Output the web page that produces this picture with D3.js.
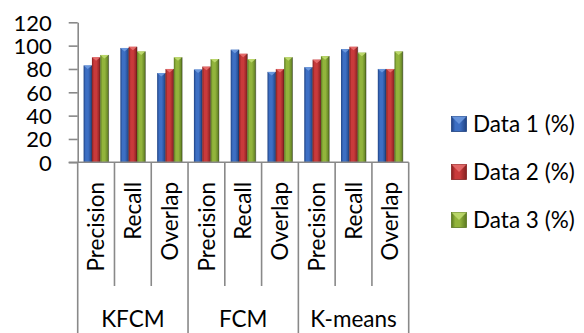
<!DOCTYPE html>
<html>
<head>
<meta charset="utf-8">
<script src="https://cdn.jsdelivr.net/npm/d3@7"></script>
<style>
  html, body { margin: 0; padding: 0; background: #fff; }
  svg { display: block; font-family: Lato, "Open Sans", sans-serif; }
</style>
</head>
<body>
<svg id="chart" width="584" height="333"></svg>
<script>
// Methods and the metrics measured for each
const groups = ["KFCM", "FCM", "K-means"];
const metrics = ["Precision", "Recall", "Overlap"];
const seriesNames = ["Data 1 (%)", "Data 2 (%)", "Data 3 (%)"];

// One value per method/metric pair, in order KFCM P,R,O / FCM P,R,O / K-means P,R,O
const data1 = [83, 98, 76.5, 79.5, 96.5, 77.5, 81.5, 97, 80];
const data2 = [90, 99, 80, 82, 93, 80, 88, 99, 80];
const data3 = [92, 95, 90, 88.5, 88.5, 90, 91, 94, 95];

const yTicks = [0, 20, 40, 60, 80, 100, 120];

const seriesColors = [
  { base: "#3d6fc4", dark: "#1f4282", light: "#6f9be0" },
  { base: "#c93a3b", dark: "#842020", light: "#e87070" },
  { base: "#92b43c", dark: "#5a7820", light: "#c0dc70" }
];

const svg = d3.select("#chart");
const defs = svg.append("defs");

seriesColors.forEach((c, i) => {
  const g = defs.append("linearGradient")
    .attr("id", "bar" + i).attr("x1", "0").attr("x2", "1").attr("y1", "0").attr("y2", "0");
  g.append("stop").attr("offset", "0").attr("stop-color", c.dark);
  g.append("stop").attr("offset", "0.25").attr("stop-color", c.base);
  g.append("stop").attr("offset", "0.55").attr("stop-color", c.base);
  g.append("stop").attr("offset", "1").attr("stop-color", c.dark);
});

const plotLeft = 77.7, plotRight = 408.7, plotTop = 22.3, plotBottom = 162.3;
const axisColor = "#898989";
const fontSize = "22.5px";

// Flattened categories: one band per method/metric pair
const cats = [];
groups.forEach(g => metrics.forEach(m => cats.push(g + "|" + m)));
const rows = cats.map((c, i) => ({ key: c, metric: c.split("|")[1], vals: [data1[i], data2[i], data3[i]] }));

const x = d3.scaleBand().domain(cats).range([plotLeft, plotRight]).paddingInner(0.32).paddingOuter(0.16);
const xs = d3.scaleBand().domain(d3.range(3)).range([0, x.bandwidth()]);
const y = d3.scaleLinear().domain([0, 120]).range([plotBottom, plotTop]);

// Y axis
const yAxis = d3.axisLeft(y).tickValues(yTicks).tickSize(9).tickSizeOuter(0).tickPadding(17);
const ya = svg.append("g").attr("transform", `translate(${plotLeft},0)`).call(yAxis);
ya.select(".domain").attr("stroke", axisColor).attr("stroke-width", 1.6);
ya.selectAll(".tick line").attr("stroke", axisColor).attr("stroke-width", 1.6);
ya.selectAll(".tick text").attr("fill", "#000").style("font-size", "22px")
  .style("font-family", "Lato, 'Open Sans', sans-serif").attr("dy", "0.36em");

// Bars
const barG = svg.append("g");
rows.forEach(r => {
  r.vals.forEach((v, s) => {
    const x0 = x(r.key) + xs(s), w = xs.bandwidth();
    const yv = y(v);
    barG.append("rect")
      .attr("x", x0).attr("y", yv).attr("width", w).attr("height", plotBottom - yv)
      .attr("fill", `url(#bar${s})`);
    // bevelled cap on top of each bar
    const cap = 3.5;
    barG.append("path")
      .attr("d", `M${x0},${yv} L${x0 + w},${yv} L${x0 + w / 2},${yv + cap} Z`)
      .attr("fill", seriesColors[s].light).attr("opacity", 0.9);
    barG.append("line")
      .attr("x1", x0 + w).attr("x2", x0 + w).attr("y1", yv).attr("y2", plotBottom)
      .attr("stroke", "rgba(0,0,0,0.35)").attr("stroke-width", 1);
  });
});

// Category axis: baseline, separators and labels
const ax = svg.append("g");
ax.append("line").attr("x1", plotLeft - 9).attr("x2", plotRight).attr("y1", plotBottom).attr("y2", plotBottom)
  .attr("stroke", axisColor).attr("stroke-width", 1.6);

const step = x.step();
const edges = d3.range(cats.length + 1).map(i => plotLeft + i * step);
edges.forEach((ex, i) => {
  const major = i % metrics.length === 0;
  ax.append("line")
    .attr("x1", ex).attr("x2", ex).attr("y1", plotBottom).attr("y2", major ? 333 : 286)
    .attr("stroke", axisColor).attr("stroke-width", 1.6);
});

rows.forEach(r => {
  const cx = x(r.key) + x.bandwidth() / 2;
  ax.append("text")
    .attr("transform", `translate(${cx},182) rotate(-90)`)
    .attr("text-anchor", "end").attr("dy", "0.36em")
    .style("font-size", fontSize).attr("fill", "#000")
    .text(r.metric);
});

groups.forEach((g, i) => {
  const gx = plotLeft + (i * metrics.length + metrics.length / 2) * step;
  ax.append("text")
    .attr("x", gx).attr("y", 326.5).attr("text-anchor", "middle")
    .style("font-size", fontSize).attr("fill", "#000")
    .text(g);
});

// Legend
const legend = svg.append("g");
const legendY = [124, 172, 220];
seriesNames.forEach((name, i) => {
  const ly = legendY[i];
  legend.append("rect")
    .attr("x", 451.5).attr("y", ly - 7.5).attr("width", 15).attr("height", 15)
    .attr("fill", `url(#bar${i})`).attr("stroke", seriesColors[i].dark).attr("stroke-width", 0.8);
  legend.append("path")
    .attr("d", `M451.5,${ly - 7.5} L466.5,${ly - 7.5} L459,${ly} Z`)
    .attr("fill", seriesColors[i].light).attr("opacity", 0.85);
  legend.append("text")
    .attr("x", 473).attr("y", ly).attr("dy", "0.36em")
    .style("font-size", fontSize).attr("fill", "#000")
    .text(name);
});
</script>
</body>
</html>
